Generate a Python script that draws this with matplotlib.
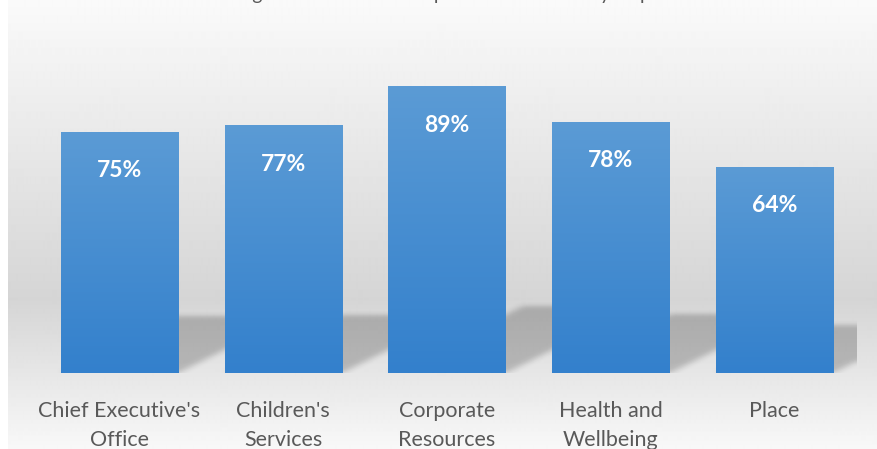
import numpy as np
import matplotlib
matplotlib.use("Agg")
import matplotlib.pyplot as plt
from matplotlib.colors import to_rgb
from matplotlib.patches import Rectangle

categories = ["Chief Executive's\nOffice", "Children's\nServices", "Corporate\nResources",
              "Health and\nWellbeing", "Place"]
values = [75, 77, 89, 78, 64]
value_labels = ["75%", "77%", "89%", "78%", "64%"]
title = "Percentage of Staff Who Completed the Return by Department"

W, H = 878, 449
fig = plt.figure(figsize=(W / 100, H / 100), dpi=100)
fig.patch.set_facecolor("white")

# background gradient panel
bg = fig.add_axes([8 / W, 0, 1 - 8 / W, 1])
bg.set_axis_off()
ys = np.linspace(0, 1, 449)  # 0 top -> 1 bottom
stops = [(0, 0.98), (300 / 449, 0.835), (1.0, 0.972)]
vals = np.interp(ys, [s[0] for s in stops], [s[1] for s in stops])
img = np.repeat(vals[:, None], 2, axis=1)
bg.imshow(img, cmap="gray", vmin=0, vmax=1, aspect="auto", extent=(0, 1, 0, 1),
          interpolation="bilinear")
bg.set_xlim(0, 1)
bg.set_ylim(0, 1)

# plot axes
x0, x1 = 37.6, 856.4
ybot, ytop = 373, 51
ax = fig.add_axes([x0 / W, 1 - ybot / H, (x1 - x0) / W, (ybot - ytop) / H])
n = len(values)
ax.set_xlim(-0.5, n - 0.5)
ax.set_ylim(0, 100)
ax.patch.set_alpha(0)
for s in ax.spines.values():
    s.set_visible(False)
ax.set_yticks([])
ax.set_xticks([])

bw = 0.715
px_per_x = (x1 - x0) / n
px_per_y = (ybot - ytop) / 100.0

# perspective shadows rendered as a blurred mask over the axes area
nx, ny = int(round(x1 - x0)), int(round(ybot - ytop))
gx = -0.5 + (np.arange(nx) + 0.5) / px_per_x
gy = 100 - (np.arange(ny) + 0.5) / px_per_y
GX, GY = np.meshgrid(gx, gy)
mask = np.zeros((ny, nx))
for i, v in enumerate(values):
    sh = 0.235 * v
    shift = 2.0 * sh * px_per_y / px_per_x
    L, R = i - bw / 2, i + bw / 2
    t = np.clip(GY / sh, 0, None)
    inside = (GY >= 0) & (GY <= sh) & (GX >= L + shift * t) & (GX <= R + shift * t)
    mask = np.maximum(mask, inside.astype(float))

def blur(a, sigma, axis):
    r = int(3 * sigma)
    k = np.exp(-0.5 * (np.arange(-r, r + 1) / sigma) ** 2)
    k /= k.sum()
    return np.apply_along_axis(lambda m: np.convolve(m, k, mode="same"), axis, a)

pad = 20
mpad = np.pad(mask, ((pad, 0), (0, pad)), mode="edge")
mpad = np.pad(mpad, ((0, 0), (pad, 0)))
mpad = blur(blur(mpad, 2.5, 0), 4.0, 1)
mask_b = mpad[pad:, pad:pad + nx]
shadow = np.zeros((ny, nx, 4))
shadow[..., 3] = 0.21 * mask_b
ax.imshow(shadow, extent=(-0.5, n - 0.5, 0, 100), aspect="auto",
          interpolation="nearest", zorder=1)

# bars with vertical gradient
top_c = np.array(to_rgb("#5b9bd5"))
bot_c = np.array(to_rgb("#3380cc"))
grad = np.linspace(0, 1, 256)[:, None]
bar_img = top_c[None, None, :] * (1 - grad[..., None]) + bot_c[None, None, :] * grad[..., None]
bar_img = np.repeat(bar_img, 2, axis=1)
for i, v in enumerate(values):
    rect = Rectangle((i - bw / 2, 0), bw, v, facecolor="none", edgecolor="none", zorder=3)
    ax.add_patch(rect)
    im = ax.imshow(bar_img, extent=(i - bw / 2, i + bw / 2, 0, v), aspect="auto",
                   interpolation="bilinear", zorder=3)
    im.set_clip_path(rect)
    ax.text(i, v - 39 / px_per_y, value_labels[i], ha="center", va="center",
            color="white", fontsize=16.5, fontweight="bold", family="Lato", zorder=4)

ax.set_xlim(-0.5, n - 0.5)
ax.set_ylim(0, 100)

# category labels
for i, c in enumerate(categories):
    ax.text(i, -(401 - ybot) / px_per_y, c, ha="center", va="top", color="#595959",
            fontsize=15.5, family="Lato", linespacing=1.55, clip_on=False, zorder=5)

# title (mostly above the visible area, as in the reference)
fig.text(447 / W, 1.0, title, ha="center", va="baseline", color="#595959",
         fontsize=14, family="Lato")

fig.savefig("out.png", dpi=100)
